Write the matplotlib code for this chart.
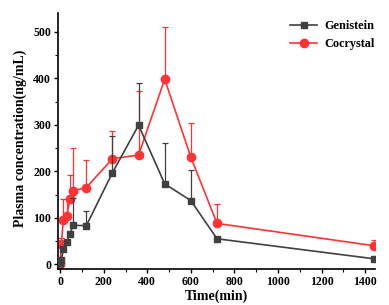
import matplotlib.pyplot as plt
import numpy as np

plt.rcParams['font.family'] = ['Liberation Serif', 'DejaVu Serif']
plt.rcParams['font.weight'] = 'bold'

# Sampling times (min)
time = [0, 5, 15, 30, 45, 60, 120, 240, 360, 480, 600, 720, 1440]

# Genistein mean and upper SD
genistein = [2, 10, 32, 47, 66, 84, 83, 197, 299, 173, 137, 55, 12]
genistein_sd = [0, 0, 0, 0, 4, 59, 32, 79, 91, 87, 66, 0, 0]

# Cocrystal mean and upper SD
cocrystal = [0, 43, 96, 104, 140, 158, 165, 227, 235, 398, 230, 88, 40]
cocrystal_sd = [0, 14, 44, 36, 53, 92, 59, 60, 137, 112, 73, 42, 12]

fig = plt.figure(figsize=(3.89, 3.05), dpi=100)
ax = fig.add_axes([0.149, 0.118, 0.815, 0.839])

g = ax.errorbar(time, genistein, yerr=[np.zeros(len(time)), genistein_sd],
                color='#404040', marker='s', markersize=5, lw=1.2, elinewidth=0.9,
                capsize=2.5, capthick=0.9, zorder=3)
c = ax.errorbar(time, cocrystal, yerr=[np.zeros(len(time)), cocrystal_sd],
                color='#ff3333', marker='o', markersize=6, lw=1.2, elinewidth=0.9,
                capsize=2.5, capthick=0.9, zorder=2)

ax.set_xlim(-10, 1445)
ax.set_ylim(-10, 540)
ax.set_xticks([0, 200, 400, 600, 800, 1000, 1200, 1400])
ax.set_yticks([0, 100, 200, 300, 400, 500])
ax.set_xticks(np.arange(100, 1445, 200), minor=True)
ax.set_yticks(np.arange(50, 540, 100), minor=True)
ax.tick_params(labelsize=8.5, width=1, length=3, pad=2)
ax.tick_params(which='minor', length=2, width=0.8)

ax.spines['top'].set_visible(False)
ax.spines['right'].set_visible(False)
ax.spines['left'].set_linewidth(1.2)
ax.spines['bottom'].set_linewidth(1.2)

ax.set_xlabel('Time(min)', fontsize=10, fontweight='bold', labelpad=1)
ax.set_ylabel('Plasma concentration(ng/mL)', fontsize=10, fontweight='bold')
ax.yaxis.set_label_coords(-0.097, 0.51)

ax.legend([g[0], c[0]], ['Genistein', 'Cocrystal'], loc='upper right',
          frameon=False, fontsize=8.8, bbox_to_anchor=(1.035, 1.015),
          handlelength=2.2, handletextpad=0.6, labelspacing=0.5)

fig.savefig('out.png', dpi=100)
